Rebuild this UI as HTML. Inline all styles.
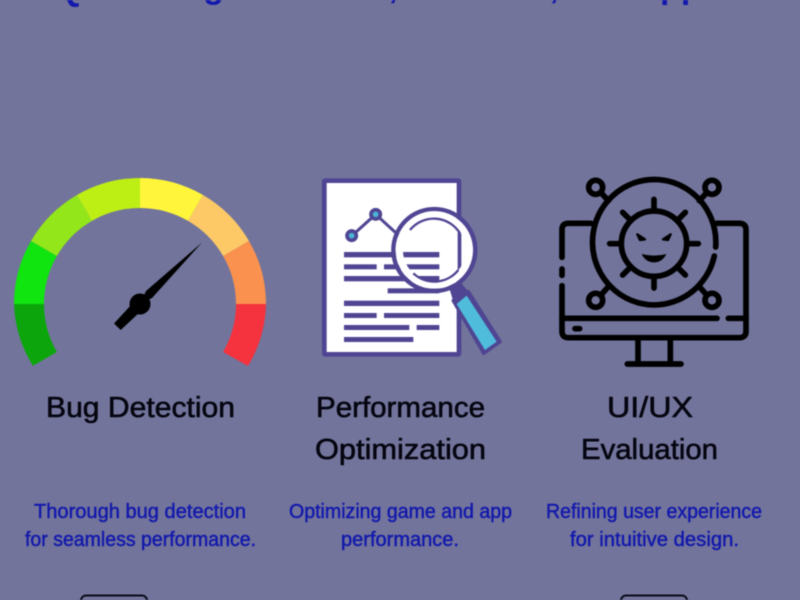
<!DOCTYPE html>
<html><head><meta charset="utf-8"><style>
html,body{margin:0;padding:0;background:#72749b;width:800px;height:600px;overflow:hidden}
svg{display:block;filter:blur(.45px)}
text{font-family:"Liberation Sans",sans-serif}
.h{font-size:29px;fill:#050510;stroke:#050510;stroke-width:.6}
.d{font-size:20px;fill:#1218ac;stroke:#1218ac;stroke-width:.45}
.t{font-size:34px;font-weight:bold;fill:#1218ac}
</style></head><body>
<svg width="800" height="600" viewBox="0 0 800 600" xmlns="http://www.w3.org/2000/svg">
<rect width="800" height="600" fill="#72749b"/>
<text class="t" x="56" y="0">QA</text>
<text class="t" x="224" y="-2" text-anchor="end">Testing</text>
<text class="t" x="232" y="-2">for</text>
<text class="t" x="398" y="-2" text-anchor="end">Games,</text>
<text class="t" x="559" y="-2" text-anchor="end">Websites,</text>
<text class="t" x="568" y="-2">and</text>
<text class="t" x="635.5" y="-2">Apps</text>

<!-- gauge -->
<g id="gauge">
<path d="M32.9 365.8L56.9 352A96 96 0 0 1 44 304H14A126 126 0 0 0 32.9 365.8Z" fill="#0ca60c"/>
<path d="M14 304H44A96 96 0 0 1 56.9 256L31 241A126 126 0 0 0 14 304Z" fill="#10e510"/>
<path d="M31 241L56.9 256A96 96 0 0 1 92 220.9L77 195A126 126 0 0 0 31 241Z" fill="#93e61a"/>
<path d="M77 195L92 220.9A96 96 0 0 1 140 208V178A126 126 0 0 0 77 195Z" fill="#bdef15"/>
<path d="M140 178V208A96 96 0 0 1 188 220.9L203 195A126 126 0 0 0 140 178Z" fill="#fff53a"/>
<path d="M203 195L188 220.9A96 96 0 0 1 223.1 256L249 241A126 126 0 0 0 203 195Z" fill="#fdc966"/>
<path d="M249 241L223.1 256A96 96 0 0 1 236 304H266A126 126 0 0 0 249 241Z" fill="#fa914e"/>
<path d="M266 304H236A96 96 0 0 1 223.1 352L248 366A126 126 0 0 0 266 304Z" fill="#f5333e"/>
<circle cx="140" cy="304" r="10.5" fill="#000"/>
<path d="M202 242.5L146 291L140 304L152 298Z" fill="#000"/>
<path d="M114 323.5L120.7 330L140 312L132 304Z" fill="#000"/>
</g>

<!-- document & magnifier -->
<g transform="translate(300 170) scale(.33333)">
<rect x="73" y="32" width="404" height="521" rx="3" fill="#fff" stroke="#4f4593" stroke-width="14" stroke-linejoin="round"/>
<circle cx="403" cy="240" r="95" fill="#fff"/>
<path d="M156 197L227 133L300 200" fill="none" stroke="#4f4593" stroke-width="9"/>
<circle cx="155" cy="197" r="14" fill="#4bb5d6" stroke="#4f4593" stroke-width="11"/>
<circle cx="227" cy="133" r="14" fill="#4bb5d6" stroke="#4f4593" stroke-width="11"/>
<g fill="#4f4593">
<rect x="132" y="246" width="286" height="16"/>
<rect x="132" y="283" width="98" height="15"/>
<rect x="252" y="283" width="166" height="15"/>
<rect x="132" y="318" width="286" height="16"/>
<rect x="263" y="355" width="155" height="15"/>
<rect x="132" y="392" width="286" height="16"/>
<rect x="132" y="429" width="98" height="15"/>
<rect x="252" y="429" width="166" height="15"/>
<rect x="132" y="465" width="196" height="15"/>
<rect x="350" y="465" width="68" height="15"/>
<rect x="132" y="501" width="208" height="15"/>
<rect x="473" y="140" width="11" height="200"/>
</g>
<path d="M445 345L480 335L505 365L460 395Z" fill="#4f4593"/>
<path d="M459 392L505 364L601 515L551 551Z" fill="#4f4593" stroke="#4f4593" stroke-width="9" stroke-linejoin="round"/>
<path d="M470 402L500 377L590 515L555 540Z" fill="#4fbcdb"/>
<circle cx="403" cy="240" r="105" fill="none" stroke="#fff" stroke-width="22"/>
<circle cx="403" cy="240" r="123" fill="none" stroke="#4f4593" stroke-width="13"/>
<path d="M330 180A92 92 0 0 1 480 190M475 300A92 92 0 0 1 340 310" fill="none" stroke="#4f4593" stroke-width="7"/>
</g>

<!-- monitor -->
<g transform="translate(545 170) scale(.33333)" fill="none" stroke="#000" stroke-width="17" stroke-linecap="round" stroke-linejoin="round">
<path d="M138 160H70Q51 160 51 179V262"/>
<path d="M51 297V316"/>
<path d="M51 347V484Q51 503 70 503H583Q603 503 603 484V179Q603 160 583 160H515"/>
<path d="M51 445H516"/>
<path d="M550 445H603"/>
<path d="M90 476H104"/>
<path d="M279 510V580M376 510V580M247 582H408"/>
<path d="M512 231A185 188 0 1 0 508 258"/>
<circle cx="327" cy="221" r="98"/>
<path d="M327 88V120M327 322V354M194 221H226M428 221H460M233 127L256 150M421 127L398 150M233 315L256 292M421 315L398 292"/>
<circle cx="152" cy="52" r="21"/>
<circle cx="501" cy="52" r="21"/>
<circle cx="152" cy="391" r="21"/>
<circle cx="501" cy="391" r="21"/>
<path d="M168 68L190 92M485 68L463 92M168 375L190 350M485 375L463 350"/>
<path d="M277 193L300 208L285 210ZM377 193L354 208L369 210Z" fill="#000" stroke-width="7"/>
<path d="M290 252Q327 262 364 252Q352 277 327 277Q302 277 290 252Z" fill="#000" stroke="none"/>
</g>

<!-- bottom monitors -->
<rect x="81" y="595.5" width="66" height="20" rx="5" fill="none" stroke="#0a0a18" stroke-width="2"/>
<rect x="621" y="595.5" width="66" height="20" rx="5" fill="none" stroke="#0a0a18" stroke-width="2"/>

<!-- labels -->
<text class="h" x="46" y="417" textLength="189" lengthAdjust="spacingAndGlyphs">Bug Detection</text>
<text class="h" x="316" y="417" textLength="169" lengthAdjust="spacingAndGlyphs">Performance</text>
<text class="h" x="315" y="459" textLength="171" lengthAdjust="spacingAndGlyphs">Optimization</text>
<text class="h" x="607" y="417" textLength="86" lengthAdjust="spacingAndGlyphs">UI/UX</text>
<text class="h" x="581" y="459" textLength="137" lengthAdjust="spacingAndGlyphs">Evaluation</text>

<text class="d" x="34" y="518" textLength="212" lengthAdjust="spacingAndGlyphs">Thorough bug detection</text>
<text class="d" x="25" y="546" textLength="231" lengthAdjust="spacingAndGlyphs">for seamless performance.</text>
<text class="d" x="289" y="518" textLength="223" lengthAdjust="spacingAndGlyphs">Optimizing game and app</text>
<text class="d" x="341" y="546" textLength="118" lengthAdjust="spacingAndGlyphs">performance.</text>
<text class="d" x="546" y="518" textLength="216" lengthAdjust="spacingAndGlyphs">Refining user experience</text>
<text class="d" x="570" y="546" textLength="169" lengthAdjust="spacingAndGlyphs">for intuitive design.</text>
</svg>
</body></html>
